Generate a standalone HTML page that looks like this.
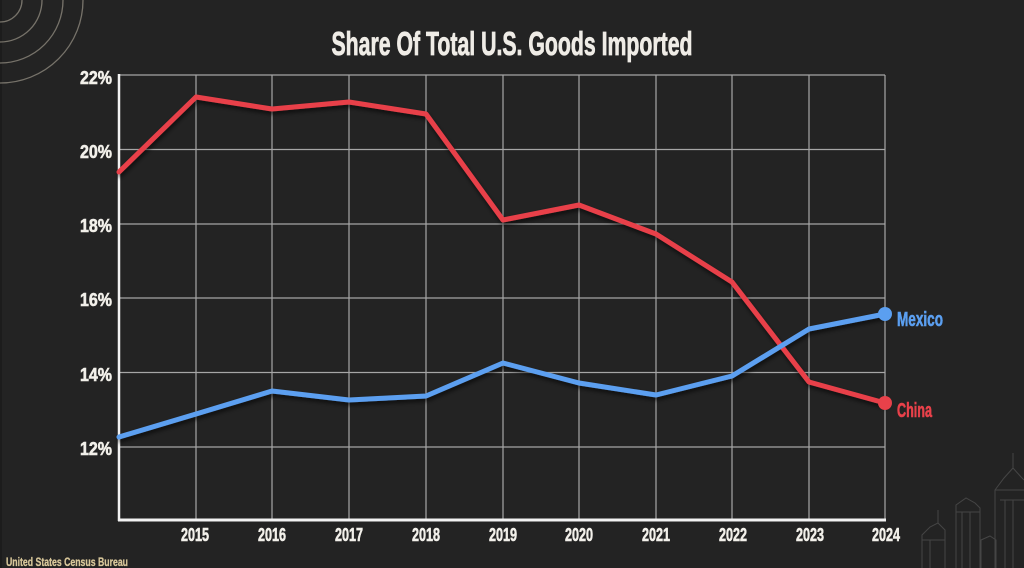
<!DOCTYPE html>
<html><head><meta charset="utf-8"><style>
html,body{margin:0;padding:0;background:#232323;}
svg{display:block;}
text{font-family:"Liberation Sans Narrow","Liberation Sans",sans-serif;font-weight:bold;}
</style></head><body>
<svg width="1024" height="568" viewBox="0 0 1024 568" xmlns="http://www.w3.org/2000/svg">
<defs>
<filter id="sh" x="-5%" y="-10%" width="110%" height="130%">
<feDropShadow dx="1" dy="3" stdDeviation="2" flood-color="#000" flood-opacity="0.6"/>
</filter>
</defs>
<rect width="1024" height="568" fill="#232323"/>
<rect x="0" y="0" width="2" height="568" fill="#1c1c1c"/>
<!-- decorative arcs -->
<g fill="none" stroke="#8c877c" stroke-width="1.3" opacity="0.8">
<circle cx="0" cy="0" r="22"/>
<circle cx="0" cy="0" r="42"/>
<circle cx="0" cy="0" r="63"/>
<circle cx="0" cy="0" r="83"/>
</g>
<!-- buildings -->
<g fill="none" stroke="#4e4e4e" stroke-width="1" opacity="0.8">
<path d="M995 568 V490 L1004 478 L1013 468 V453 M1013 468 L1022 478 L1024 480 M995 490 H1024 M1000 500 H1024 M1005 568 V500 M1013 568 V500"/>
<path d="M956 568 V505 L966 498 L975 503 L980 508 V568 M956 512 H980 M962 568 V512 M970 568 V512"/>
<path d="M922 568 V535 L930 527 L938 523 V510 M938 523 L945 530 V568 M922 540 H945 M930 568 V540"/>
<path d="M981 568 V540 L990 536 L996 540 V568"/>
</g>
<!-- title -->
<text x="512" y="55" text-anchor="middle" font-size="33" fill="#efece6" stroke="#efece6" stroke-width="0.8" textLength="361" lengthAdjust="spacingAndGlyphs">Share Of Total U.S. Goods Imported</text>
<!-- grid -->
<g stroke="#bdbdbd" stroke-width="1.2" opacity="0.85">
<line x1="119" y1="75" x2="885" y2="75"/>
<line x1="119" y1="149.5" x2="885" y2="149.5"/>
<line x1="119" y1="224" x2="885" y2="224"/>
<line x1="119" y1="298" x2="885" y2="298"/>
<line x1="119" y1="372.5" x2="885" y2="372.5"/>
<line x1="119" y1="447" x2="885" y2="447"/>
<line x1="196" y1="75" x2="196" y2="520"/>
<line x1="272" y1="75" x2="272" y2="520"/>
<line x1="349" y1="75" x2="349" y2="520"/>
<line x1="426" y1="75" x2="426" y2="520"/>
<line x1="503" y1="75" x2="503" y2="520"/>
<line x1="579" y1="75" x2="579" y2="520"/>
<line x1="656" y1="75" x2="656" y2="520"/>
<line x1="732" y1="75" x2="732" y2="520"/>
<line x1="809" y1="75" x2="809" y2="520"/>
<line x1="885" y1="75" x2="885" y2="520"/>
</g>
<!-- axes -->
<line x1="119" y1="74" x2="119" y2="521" stroke="#f2f2f2" stroke-width="2.5"/>
<line x1="118" y1="520" x2="886" y2="520" stroke="#f2f2f2" stroke-width="3"/>
<!-- y labels -->
<g font-size="18" fill="#f2f0ea" stroke="#f2f0ea" stroke-width="0.6" text-anchor="end">
<text x="112" y="84" textLength="32" lengthAdjust="spacingAndGlyphs">22%</text>
<text x="112" y="158" textLength="32" lengthAdjust="spacingAndGlyphs">20%</text>
<text x="112" y="232" textLength="32" lengthAdjust="spacingAndGlyphs">18%</text>
<text x="112" y="306" textLength="32" lengthAdjust="spacingAndGlyphs">16%</text>
<text x="112" y="381" textLength="32" lengthAdjust="spacingAndGlyphs">14%</text>
<text x="112" y="455" textLength="32" lengthAdjust="spacingAndGlyphs">12%</text>
</g>
<!-- x labels -->
<g font-size="18" fill="#f2f0ea" stroke="#f2f0ea" stroke-width="0.6" text-anchor="middle">
<text x="195" y="541" textLength="28" lengthAdjust="spacingAndGlyphs">2015</text>
<text x="272" y="541" textLength="28" lengthAdjust="spacingAndGlyphs">2016</text>
<text x="349" y="541" textLength="28" lengthAdjust="spacingAndGlyphs">2017</text>
<text x="426" y="541" textLength="28" lengthAdjust="spacingAndGlyphs">2018</text>
<text x="503" y="541" textLength="28" lengthAdjust="spacingAndGlyphs">2019</text>
<text x="579" y="541" textLength="28" lengthAdjust="spacingAndGlyphs">2020</text>
<text x="656" y="541" textLength="28" lengthAdjust="spacingAndGlyphs">2021</text>
<text x="733" y="541" textLength="28" lengthAdjust="spacingAndGlyphs">2022</text>
<text x="810" y="541" textLength="28" lengthAdjust="spacingAndGlyphs">2023</text>
<text x="886" y="541" textLength="28" lengthAdjust="spacingAndGlyphs">2024</text>
</g>
<!-- series -->
<g fill="none" stroke-width="5" stroke-linejoin="round" stroke-linecap="round" filter="url(#sh)">
<polyline stroke="#e8414a" points="119,172 196,97 272,109 349,102 426,114 503,220 579,205 656,234 732,282 809,382 885,403"/>
<polyline stroke="#5b9ff0" points="119,437 196,414 272,391 349,400 426,396 503,363 579,383 656,395 732,376 809,329 885,314"/>
</g>
<circle cx="885" cy="314" r="7" fill="#5b9ff0"/>
<circle cx="885" cy="403" r="7" fill="#e8414a"/>
<text x="897" y="326" font-size="20" fill="#5b9ff0" stroke="#5b9ff0" stroke-width="0.6" textLength="46" lengthAdjust="spacingAndGlyphs">Mexico</text>
<text x="897" y="417" font-size="20" fill="#e8414a" stroke="#e8414a" stroke-width="0.6" textLength="35" lengthAdjust="spacingAndGlyphs">China</text>
<!-- source -->
<text x="6" y="566" font-size="12" fill="#d8c79a" stroke="#d8c79a" stroke-width="0.3" textLength="122" lengthAdjust="spacingAndGlyphs">United States Census Bureau</text>
</svg>
</body></html>
